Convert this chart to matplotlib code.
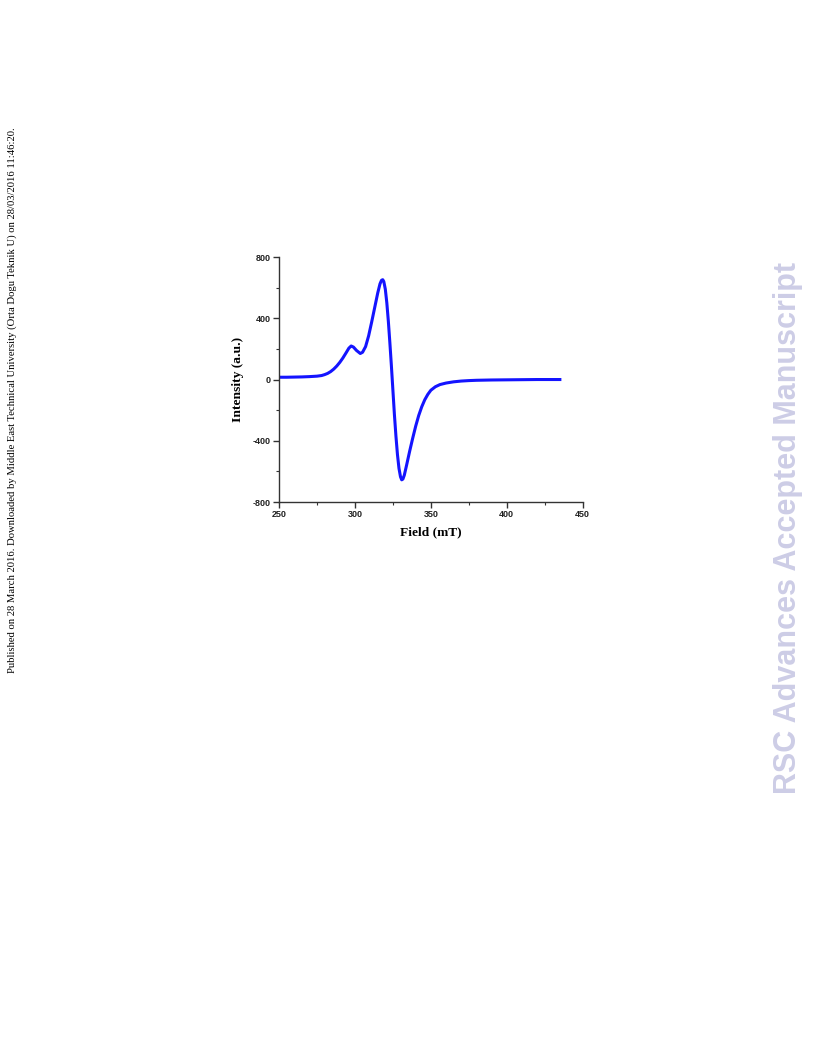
import numpy as np
import matplotlib.pyplot as plt
from matplotlib.ticker import MultipleLocator

plt.rcParams['axes.unicode_minus'] = False

# EPR spectrum
field = [250, 255, 260, 265, 270, 275, 278, 280, 282, 284, 286, 288, 290, 292, 294,
         296, 297.5, 299, 301, 303.5, 305, 307, 309, 311, 313, 315, 316.5, 317.5, 318.3,
         319, 320, 321, 322, 323, 324, 325, 326, 327, 328, 329, 330, 330.8, 331.6, 332.5,
         334, 336, 338, 340, 342, 344, 346, 348, 350, 353, 356, 360, 365, 370, 375, 380,
         390, 400, 410, 420, 430, 435]
intensity = [15, 15, 16, 17, 19, 22, 26, 32, 40, 52, 68, 88, 112, 140, 172,
             205, 219, 212, 190, 170, 178, 215, 285, 375, 470, 565, 625, 648, 652,
             640, 590, 500, 380, 240, 90, -70, -230, -370, -490, -580, -635, -655, -650, -625,
             -560, -470, -385, -305, -235, -178, -132, -97, -70, -47, -33, -23, -15, -10, -7, -5,
             -3, -2, -1, 0, 0, 0]

fig = plt.figure(figsize=(8.16, 10.56), dpi=100)
ax = fig.add_axes([0.342, 0.5246, 0.372, 0.232])

ax.plot(field, intensity, color='#1414ff', linewidth=2.2)

ax.set_xlim(250, 450)
ax.set_ylim(-800, 800)
ax.xaxis.set_major_locator(MultipleLocator(50))
ax.xaxis.set_minor_locator(MultipleLocator(25))
ax.yaxis.set_major_locator(MultipleLocator(400))
ax.yaxis.set_minor_locator(MultipleLocator(200))
ax.spines['top'].set_visible(False)
ax.spines['right'].set_visible(False)
for s in ['left', 'bottom']:
    ax.spines[s].set_color('#333333')
    ax.spines[s].set_linewidth(1.0)
ax.tick_params(which='major', direction='out', length=4, width=1, colors='#333333',
               labelsize=6.5, pad=2)
ax.tick_params(which='minor', direction='out', length=2.5, width=0.8, colors='#333333')
for lab in ax.get_xticklabels() + ax.get_yticklabels():
    lab.set_fontweight('bold')
    lab.set_family('Liberation Sans')
    lab.set_color('#222222')

ax.set_xlabel('Field (mT)', family='Liberation Serif', fontweight='bold', fontsize=9.6,
              labelpad=5)
ax.set_ylabel('Intensity (a.u.)', family='Liberation Serif', fontweight='bold', fontsize=9.7,
              labelpad=6)

fig.text(0.0147, 0.621, 'Published on 28 March 2016. Downloaded by Middle East Technical University '
         '(Orta Dogu Teknik U) on 28/03/2016 11:46:20.',
         rotation=90, family='Liberation Serif', fontsize=7.65, ha='center', va='center')
fig.text(0.966, 0.5, 'RSC Advances Accepted Manuscript', rotation=90,
         family='Liberation Sans', fontweight='bold', fontsize=22, color='#cdcde6',
         ha='center', va='center')

fig.savefig('out.png', dpi=100)
